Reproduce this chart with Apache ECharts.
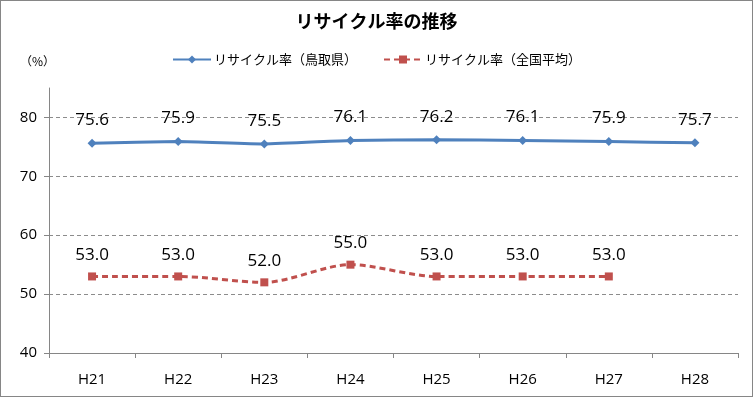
<!DOCTYPE html>
<html><head><meta charset="utf-8">
<script src="https://cdn.jsdelivr.net/npm/echarts@6/dist/echarts.min.js"></script>
<style>html,body{margin:0;padding:0;background:#fff}#c{width:753px;height:397px;box-sizing:border-box;border:1px solid #868686}</style>
</head><body><div id="c"></div>
<script>
const categories = ['H21','H22','H23','H24','H25','H26','H27','H28'];
const tottori = [75.6, 75.9, 75.5, 76.1, 76.2, 76.1, 75.9, 75.7];
const national = [53.0, 53.0, 52.0, 55.0, 53.0, 53.0, 53.0, null];
const seriesNames = ['リサイクル率（鳥取県）', 'リサイクル率（全国平均）'];
const titleText = 'リサイクル率の推移';
const unitText = '（%）';

const chart = echarts.init(document.getElementById('c'));
const font = '"Noto Sans CJK JP", sans-serif';
const numFont = '"Open Sans", "Liberation Sans", sans-serif';
chart.setOption({
  animation: false,
  title: { text: titleText, left: 'center', top: 6,
    textStyle: { fontFamily: font, fontSize: 18, fontWeight: 'bold', color: '#000' } },
  legend: { top: 47, left: 'center', itemGap: 26, itemWidth: 38, itemHeight: 10,
    textStyle: { fontFamily: font, fontSize: 13, color: '#000', padding: [0, 0, 0, -2] },
    data: seriesNames },
  graphic: [{ type: 'text', left: 19, top: 54,
    style: { text: unitText, fontFamily: font, fontSize: 12, fill: '#000' } }],
  grid: { left: 48, right: 14, top: 87, bottom: 43, containLabel: false },
  xAxis: { type: 'category', data: categories, boundaryGap: true,
    axisLine: { lineStyle: { color: '#868686', width: 1 } },
    axisTick: { show: true, length: 5, lineStyle: { color: '#868686' } },
    axisLabel: { fontFamily: numFont, fontSize: 15, color: '#000', margin: 19 } },
  yAxis: { type: 'value', min: 40, max: 85, interval: 10,
    axisLine: { show: true, lineStyle: { color: '#868686' } },
    axisTick: { show: true, length: 5, lineStyle: { color: '#868686' } },
    axisLabel: { fontFamily: numFont, fontSize: 15, color: '#000', margin: 12, showMaxLabel: false },
    splitLine: { show: true, showMaxLine: false, lineStyle: { color: '#8c8c8c', type: [4, 3], width: 1 } } },
  series: [
    { name: seriesNames[0], type: 'line', data: tottori, smooth: 0.15,
      symbol: 'diamond', symbolSize: 9,
      lineStyle: { color: '#4F81BD', width: 3 }, itemStyle: { color: '#4F81BD' },
      label: { show: true, position: 'top', distance: 10, formatter: p => p.value.toFixed(1),
        fontFamily: numFont, fontSize: 17, color: '#000' } },
    { name: seriesNames[1], type: 'line', data: national, smooth: 0.3, connectNulls: false,
      symbol: 'rect', symbolSize: 8,
      lineStyle: { color: '#C0504D', width: 3, type: [6, 4] }, itemStyle: { color: '#C0504D' },
      label: { show: true, position: 'top', distance: 9, formatter: p => p.value == null ? '' : p.value.toFixed(1),
        fontFamily: numFont, fontSize: 17, color: '#000' } }
  ]
});
</script></body></html>
